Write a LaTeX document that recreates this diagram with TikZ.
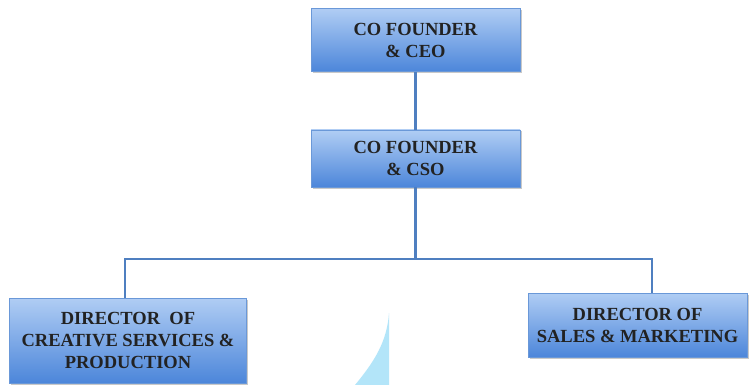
\documentclass[tikz,border=0pt]{standalone}
\usepackage{fontspec}
\setmainfont{Liberation Serif}
\usetikzlibrary{shadows}
\definecolor{boxtop}{HTML}{B0CDF4}
\definecolor{boxbot}{HTML}{4C86DA}
\definecolor{boxline}{HTML}{6A98D8}
\definecolor{conn}{HTML}{4F7FC0}
\definecolor{txt}{HTML}{222222}
\definecolor{deco}{HTML}{B3E5F9}
\tikzset{
  orgbox/.style={draw=boxline, line width=0.6pt, top color=boxtop, bottom color=boxbot,
    drop shadow={shadow xshift=1.5pt, shadow yshift=-1.5pt, fill=black!35, opacity=0.6},
    align=center, text=txt, inner sep=0pt,
    font=\fontsize{18.5}{22}\selectfont\bfseries},
  link/.style={draw=conn, line width=2.4pt}
}
\begin{document}
\begin{tikzpicture}[x=1pt,y=-1pt]
\useasboundingbox (0,0) rectangle (749,385);
\fill[white] (0,0) rectangle (749,385);
\fill[deco] (389,313) -- (389,385) -- (355,385) .. controls (374,362) and (387,342) .. (389,313) -- cycle;
\coordinate (bar) at (415.5,259);
\coordinate (lx) at (125,0);
\coordinate (rx) at (652,0);
\node[orgbox, minimum width=237pt, minimum height=85pt] (dcs) at (128,340.5) {DIRECTOR\ \ OF\\CREATIVE SERVICES \&\\PRODUCTION};
\node[orgbox, minimum width=219pt, minimum height=64pt] (dsm) at (637.5,325) {DIRECTOR OF\\SALES \& MARKETING};
\draw[link] (dcs.north -| lx) |- (bar) -| (dsm.north -| rx);
\node[orgbox, minimum width=209pt, minimum height=63pt] (ceo) at (415.5,40) {CO FOUNDER\\\& CEO};
\node[orgbox, minimum width=209pt, minimum height=57pt] (cso) at (415.5,158.5) {CO FOUNDER\\\& CSO};
\draw[link] (ceo.south) -- (cso.north);
\draw[link] (cso.south) -- (bar);
\end{tikzpicture}
\end{document}
